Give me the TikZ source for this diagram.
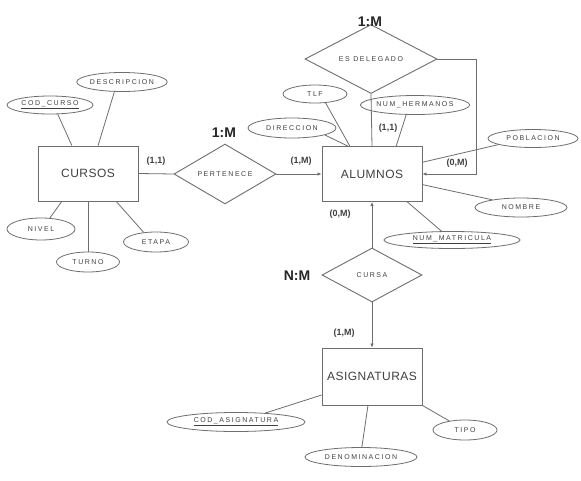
\documentclass[tikz,border=0pt]{standalone}
\usepackage{fontspec}
\setmainfont{Liberation Sans}
\newfontfamily\attrfont[LetterSpace=22]{Liberation Sans}
\newfontfamily\entfont[LetterSpace=4]{Liberation Sans}
\usetikzlibrary{shapes.geometric,arrows.meta,calc}
\definecolor{ln}{HTML}{6E6E6E}
\definecolor{tx}{HTML}{404040}
\begin{document}
\begin{tikzpicture}[x=1pt,y=-1pt,
 ent/.style={draw=ln,line width=0.9pt,rectangle,minimum width=100pt,minimum height=55pt,inner sep=0pt,font=\entfont\fontsize{12}{12}\selectfont,text=tx},
 rel/.style={draw=ln,line width=0.9pt,diamond,inner sep=0pt,font=\attrfont\fontsize{7}{7}\selectfont,text=tx},
 attr/.style={draw=ln,line width=0.8pt,ellipse,inner sep=0pt,font=\attrfont\fontsize{7}{7}\selectfont,text=tx},
 card/.style={font=\bfseries\fontsize{9}{9}\selectfont,text=tx,inner sep=0pt},
 ratio/.style={font=\bfseries\fontsize{14}{14}\selectfont,text=black!85,inner sep=0pt},
 link/.style={draw=ln,line width=0.8pt},
 arr/.style={link,-{Latex[length=4pt,width=3.5pt]}}
]
\useasboundingbox (0,0) rectangle (581,480);
\fill[white] (0,0) rectangle (581,480);

% entities
\node[ent] (cursos) at (88,173.5) {CURSOS};
\node[ent] (alumnos) at (372,174) {ALUMNOS};
\node[ent,minimum height=57pt] (asig) at (372,376.5) {ASIGNATURAS};

% relationships
\node[rel,minimum width=102pt,minimum height=53pt] (pert) at (225,174) {PERTENECE};
\node[rel,minimum width=132pt,minimum height=42pt] (esdel) at (371,59) {ES DELEGADO};
\node[rel,minimum width=100pt,minimum height=54pt] (cursa) at (372,275) {CURSA};

% attributes
\node[attr,minimum width=86pt,minimum height=18pt] (codcurso) at (50,105) {\underline{COD\_CURSO}};
\node[attr,minimum width=90pt,minimum height=19pt] (descr) at (122,82) {DESCRIPCION};
\node[attr,minimum width=68pt,minimum height=22pt] (nivel) at (41,229) {NIVEL};
\node[attr,minimum width=63pt,minimum height=20pt] (turno) at (88,262) {TURNO};
\node[attr,minimum width=65pt,minimum height=20pt] (etapa) at (156,242) {ETAPA};
\node[attr,minimum width=64pt,minimum height=18pt] (tlf) at (315,94) {TLF};
\node[attr,minimum width=88pt,minimum height=20pt] (direccion) at (292,128) {DIRECCION};
\node[attr,minimum width=102pt,minimum height=19pt] (numherm) at (415,105) {NUM\_HERMANOS};
\node[attr,minimum width=90pt,minimum height=18pt] (poblacion) at (533,138.5) {POBLACION};
\node[attr,minimum width=92pt,minimum height=19pt] (nombre) at (521,207.5) {NOMBRE};
\node[attr,minimum width=136pt,minimum height=17pt] (nummat) at (452,240) {\underline{NUM\_MATRICULA}};
\node[attr,minimum width=138pt,minimum height=19pt] (codasig) at (236,422) {\underline{COD\_ASIGNATURA}};
\node[attr,minimum width=112pt,minimum height=19pt] (denom) at (361,457) {DENOMINACION};
\node[attr,minimum width=64pt,minimum height=20pt] (tipo) at (465,430) {TIPO};

% ratio labels
\node[ratio] (r1) at (224,133) {1:M};
\node[ratio] (r2) at (370,22) {1:M};
\node[ratio] (r3) at (297,276) {N:M};

% cardinality labels
\node[card] (c1) at (156,161) {(1,1)};
\node[card] (c2) at (301,161) {(1,M)};
\node[card] (c3) at (388,128) {(1,1)};
\node[card] (c4) at (457,163) {(0,M)};
\node[card] (c5) at (340,214) {(0,M)};
\node[card] (c6) at (344,333) {(1,M)};

% relationship connectors
\draw[link] (cursos.east) -- (pert.west);
\draw[arr] (pert.east) -- (alumnos.west);
\draw[link] (esdel.south) -- (alumnos.north);
\coordinate (loop) at (476,59);
\draw[arr] (esdel.east) -- (loop) |- (alumnos.east);
\draw[arr] (cursa.north) -- (alumnos.south);
\draw[arr] (cursa.south) -- (asig.north);

% attribute connectors: CURSOS
\draw[link] ($(cursos.north west)!0.34!(cursos.north east)$) -- (codcurso.-50);
\draw[link] ($(cursos.north west)!0.60!(cursos.north east)$) -- (descr.-128);
\draw[link] ($(cursos.south west)!0.24!(cursos.south east)$) -- (nivel.51);
\draw[link] (cursos.south) -- (turno.north);
\draw[link] ($(cursos.south west)!0.78!(cursos.south east)$) -- (etapa.142);

% attribute connectors: ALUMNOS
\draw[link] ($(alumnos.north west)!0.28!(alumnos.north east)$) -- (tlf.-40);
\draw[link] ($(alumnos.north west)!0.26!(alumnos.north east)$) -- (direccion.-12);
\draw[link] ($(alumnos.north west)!0.74!(alumnos.north east)$) -- (numherm.-132);
\draw[link] ($(alumnos.north east)!0.29!(alumnos.south east)$) -- (poblacion.190);
\draw[link] ($(alumnos.north east)!0.69!(alumnos.south east)$) -- (nombre.165);
\draw[link] ($(alumnos.south west)!0.85!(alumnos.south east)$) -- (nummat.140);

% attribute connectors: ASIGNATURAS
\draw[link] ($(asig.north west)!0.82!(asig.south west)$) -- (codasig.17);
\draw[link] ($(asig.south west)!0.46!(asig.south east)$) -- (denom.85);
\draw[link] (asig.south east) -- (tipo.150);
\end{tikzpicture}
\end{document}
